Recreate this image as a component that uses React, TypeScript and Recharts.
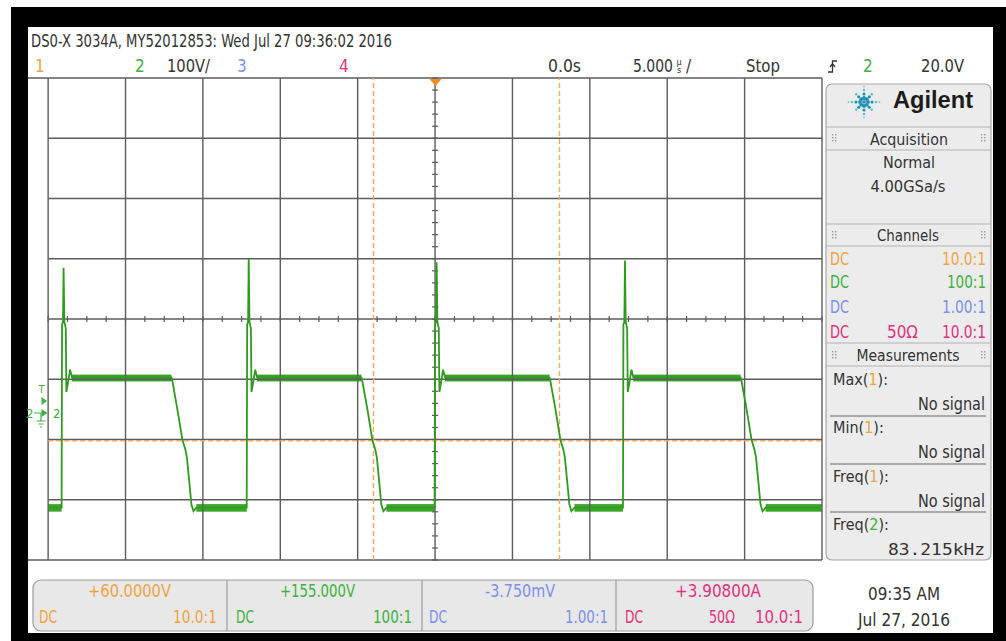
import React from "react";
import { ComposedChart, Line, Area, XAxis, YAxis, ReferenceLine } from "recharts";

// Channel 2 trace: time in µs (5 µs/div, 0 = trigger), volts (100 V/div, offset +155 V)
const CH2_TIME_US = [
  -25.0, -24.13, -24.1, -24.04, -24.0, -23.95, -23.86, -23.82, -23.72, -23.58, -23.46,
  -17.03, -16.97, -16.65, -16.32, -16.13, -16.03, -15.74, -15.61, -15.42,
  -12.17, -12.14, -12.08, -12.04, -11.99, -11.9, -11.86, -11.76, -11.62, -11.5,
  -4.76, -4.7, -4.37, -4.05, -3.86, -3.76, -3.47, -3.34, -3.14,
  -0.03, 0.0, 0.06, 0.1, 0.15, 0.24, 0.28, 0.38, 0.52, 0.64,
  7.39, 7.45, 7.78, 8.1, 8.29, 8.39, 8.68, 8.81, 9.01,
  12.14, 12.17, 12.23, 12.27, 12.32, 12.41, 12.45, 12.55, 12.69, 12.81,
  19.74, 19.8, 20.13, 20.45, 20.64, 20.74, 21.03, 21.16, 21.36, 25.0,
];
const CH2_VOLTS = [
  -158, -158, 146, 150, 240, 150, 140, 34, 48, 71, 58,
  58, 52, 5, -46, -62, -75, -153, -164, -158,
  -158, 146, 150, 255, 150, 140, 34, 48, 71, 58,
  58, 52, 5, -46, -62, -75, -153, -164, -158,
  -158, 146, 150, 249, 150, 140, 34, 48, 71, 58,
  58, 52, 5, -46, -62, -75, -153, -164, -158,
  -158, 146, 150, 252, 150, 140, 34, 48, 71, 58,
  58, 52, 5, -46, -62, -75, -153, -164, -158, -158,
];

// noisy plateaus drawn as thin bands
const HIGH_SPANS_US = [[-23.46, -17.03], [-11.5, -4.76], [0.64, 7.39], [12.81, 19.74]];
const LOW_SPANS_US = [[-25.0, -24.13], [-15.42, -12.17], [-3.14, -0.03], [9.01, 12.14], [21.36, 25.0]];
const HIGH_BAND_V = [52, 62];
const LOW_BAND_V = [-164, -153];

const CURSOR_X_US = [-3.98, 8.04];
const CURSOR_Y_V = -47;

const GRID_X_US = [-25, -20, -15, -10, -5, 0, 5, 10, 15, 20, 25];
const GRID_Y_V = [455, 355, 255, 155, 55, -45, -145];
const FRAME_Y_V = [555, -245];
const X_DOMAIN = [-26.3, 25];
const Y_DOMAIN = [-245, 555];

const ORANGE = "#f2a341";
const GREEN = "#3db23d";
const BLUE = "#7b8ff0";
const MAGENTA = "#e5317e";
const INK = "#333";
const TRACE = "#2e9b1f";
const GRID = "#5c5c5c";

const FONT =
  "'Liberation Sans Narrow','DejaVu Sans Condensed','Roboto Condensed',Roboto,'Liberation Sans',sans-serif";
const MONO = "'DejaVu Sans Mono','Liberation Mono',monospace";

const trace = CH2_TIME_US.map((t, i) => ({ t, v: CH2_VOLTS[i] }));

function Txt({ x, y, len, anchor = "start", fill = INK, size = 17, weight = 400, family = FONT, children }: any) {
  return (
    <text
      x={x}
      y={y}
      textLength={len}
      lengthAdjust={len ? "spacingAndGlyphs" : undefined}
      textAnchor={anchor}
      fontSize={size}
      fontWeight={weight}
      fontFamily={family}
      fill={fill}
    >
      {children}
    </text>
  );
}

// label like "Max(1):" with the channel digit coloured
function MeasLabel({ y, name, ch, color }: any) {
  return (
    <text x={833} y={y} fontSize={16} fontFamily={FONT} fill={INK}>
      {name}(<tspan fill={color}>{ch}</tspan>):
    </text>
  );
}

function Grip({ x, y }: { x: number; y: number }) {
  const dots = [];
  for (let c = 0; c < 2; c++)
    for (let r = 0; r < 3; r++)
      dots.push(<rect key={`${c}-${r}`} x={x + c * 3} y={y + r * 3} width={1.4} height={1.4} fill="#9a9a9a" />);
  return <g>{dots}</g>;
}

function Logo({ cx, cy }: { cx: number; cy: number }) {
  const dots = [];
  for (let k = 0; k < 8; k++) {
    const a = (k * Math.PI) / 4;
    const radii = k % 2 === 0 ? [4, 8, 12, 15.5] : [4, 7.5, 11];
    radii.forEach((r, j) => {
      dots.push(
        <circle
          key={`${k}-${j}`}
          cx={cx + r * Math.cos(a)}
          cy={cy + r * Math.sin(a)}
          r={1.9 - j * 0.35}
          fill={j < 2 ? "#1f8fb3" : "#52c1d6"}
        />
      );
    });
  }
  return (
    <g>
      <circle cx={cx} cy={cy} r={1.8} fill="#1f8fb3" />
      {dots}
    </g>
  );
}

export default function App() {
  const minorX: number[] = [];
  for (let k = 0; k <= 40; k++) minorX.push(-25 + k * 1.25);
  const minorY: number[] = [];
  for (let k = 0; k <= 40; k++) minorY.push(-245 + k * 20);

  return (
    <div style={{ position: "fixed", left: 0, top: 0, width: 1006, height: 641, background: "#fff", overflow: "hidden" }}>
      {/* bezel */}
      <svg width={1006} height={641} style={{ position: "absolute", left: 0, top: 0 }}>
        <rect x={11} y={7} width={995} height={634} fill="#000" />
        <rect x={28} y={27} width={965} height={606} fill="#fff" />
      </svg>

      <div style={{ position: "absolute", left: 23, top: 73 }}>
        <ComposedChart width={804} height={492} margin={{ top: 5, right: 5, bottom: 5, left: 5 }}>
          <XAxis type="number" dataKey="t" domain={X_DOMAIN} hide allowDataOverflow />
          <YAxis type="number" domain={Y_DOMAIN} hide allowDataOverflow />
          {FRAME_Y_V.map((y) => (
            <ReferenceLine key={`f${y}`} y={y} stroke={GRID} strokeWidth={1.4} />
          ))}
          {GRID_X_US.map((x) => (
            <ReferenceLine key={`gx${x}`} x={x} stroke={GRID} strokeWidth={1.4} />
          ))}
          {GRID_Y_V.map((y) => (
            <ReferenceLine
              key={`gy${y}`}
              segment={[{ x: -25, y }, { x: 25, y }]}
              stroke={GRID}
              strokeWidth={1.4}
            />
          ))}
          {minorX.map((x) => (
            <ReferenceLine
              key={`mx${x}`}
              segment={[{ x, y: 150 }, { x, y: 160 }]}
              stroke={GRID}
              strokeWidth={1.2}
            />
          ))}
          {minorY.map((y) => (
            <ReferenceLine
              key={`my${y}`}
              segment={[{ x: -0.2, y }, { x: 0.2, y }]}
              stroke={GRID}
              strokeWidth={1.2}
            />
          ))}
          {CURSOR_X_US.map((x) => (
            <ReferenceLine key={`cx${x}`} x={x} stroke="#f4a75a" strokeWidth={1.4} strokeDasharray="5 3" />
          ))}
          <ReferenceLine
            segment={[{ x: -25, y: CURSOR_Y_V }, { x: 25, y: CURSOR_Y_V }]}
            stroke="#f4a75a"
            strokeWidth={1.4}
            strokeDasharray="5 3"
          />
          {HIGH_SPANS_US.map(([s, e]) => (
            <Area
              key={`h${s}`}
              data={[{ t: s, r: HIGH_BAND_V }, { t: e, r: HIGH_BAND_V }]}
              dataKey="r"
              type="linear"
              stroke="#3a9f25"
              strokeWidth={0.8}
              fill="#3aa82a"
              fillOpacity={1}
              isAnimationActive={false}
            />
          ))}
          {LOW_SPANS_US.map(([s, e]) => (
            <Area
              key={`l${s}`}
              data={[{ t: s, r: LOW_BAND_V }, { t: e, r: LOW_BAND_V }]}
              dataKey="r"
              type="linear"
              stroke="#3a9f25"
              strokeWidth={0.8}
              fill="#3aa82a"
              fillOpacity={1}
              isAnimationActive={false}
            />
          ))}
          <Line
            data={trace}
            dataKey="v"
            type="linear"
            stroke={TRACE}
            strokeWidth={1.8}
            dot={false}
            isAnimationActive={false}
          />
        </ComposedChart>
      </div>

      {/* scope UI overlay */}
      <svg width={1006} height={641} style={{ position: "absolute", left: 0, top: 0, pointerEvents: "none" }}>
        <Txt x={31} y={47} len={361}>DS0-X 3034A, MY52012853: Wed Jul 27 09:36:02 2016</Txt>
        <Txt x={35} y={72} fill={ORANGE}>1</Txt>
        <Txt x={135} y={72} fill={GREEN}>2</Txt>
        <Txt x={167} y={72} len={43}>100V/</Txt>
        <Txt x={237} y={72} fill={BLUE}>3</Txt>
        <Txt x={339} y={72} fill={MAGENTA}>4</Txt>
        <Txt x={548} y={72} len={33}>0.0s</Txt>
        <Txt x={633} y={72} len={40}>5.000</Txt>
        <Txt x={679} y={65} size={9} anchor="middle">µ</Txt>
        <Txt x={679} y={73} size={9} anchor="middle">s</Txt>
        <Txt x={686} y={72}>/</Txt>
        <Txt x={746} y={72} len={34}>Stop</Txt>
        <path d="M828,72 H832.5 V61 H837 M830,67 L832.5,63.5 L835,67" stroke={INK} strokeWidth={1.3} fill="none" />
        <Txt x={863} y={72} fill={GREEN}>2</Txt>
        <Txt x={921} y={72} len={43}>20.0V</Txt>

        {/* trigger position marker */}
        <path d="M429.5,79 L441.5,79 L435.5,86 Z" fill="#f08c1e" />

        {/* channel 2 ground and trigger level markers */}
        <Txt x={38.5} y={393} size={11} fill={GREEN}>T</Txt>
        <path d="M41.5,397 L47,401 L41.5,405 Z" fill={GREEN} />
        <Txt x={26} y={418} size={13} fill={GREEN}>2</Txt>
        <path d="M34,413 H41 V421 M36.5,421 H45.5 M38.5,424 H43.5 M40,427 H42" stroke={GREEN} strokeWidth={1.2} fill="none" />
        <path d="M41.5,409 L47.5,413 L41.5,417 Z" fill={GREEN} />
        <Txt x={53} y={418} size={13} fill={GREEN}>2</Txt>

        {/* right side panel */}
        <rect x={826} y={84} width={165} height={476} rx={6} fill="#ececec" stroke="#a8a8a8" strokeWidth={1.2} />
        {[127, 150, 224, 246, 343, 366].map((y) => (
          <line key={y} x1={826} x2={991} y1={y} y2={y} stroke="#b2b2b2" strokeWidth={1.2} />
        ))}
        <Logo cx={864} cy={102} />
        <Txt x={893} y={108} len={80} size={23} weight={700} family="'Liberation Sans',Arial,sans-serif" fill="#1c1c1c">
          Agilent
        </Txt>
        <Grip x={832} y={134} />
        <Grip x={981} y={134} />
        <Txt x={909} y={145} len={78} anchor="middle" size={16}>Acquisition</Txt>
        <Txt x={909} y={168} len={52} anchor="middle" size={16}>Normal</Txt>
        <Txt x={908} y={192} len={75} anchor="middle" size={16}>4.00GSa/s</Txt>
        <Grip x={832} y={231} />
        <Grip x={981} y={231} />
        <Txt x={908} y={241} len={62} anchor="middle" size={16}>Channels</Txt>
        <Txt x={830} y={265} len={19} fill={ORANGE}>DC</Txt>
        <Txt x={986} y={265} len={44} anchor="end" fill={ORANGE}>10.0:1</Txt>
        <Txt x={830} y={288} len={19} fill={GREEN}>DC</Txt>
        <Txt x={986} y={288} len={39} anchor="end" fill={GREEN}>100:1</Txt>
        <Txt x={830} y={313} len={19} fill={BLUE}>DC</Txt>
        <Txt x={986} y={313} len={44} anchor="end" fill={BLUE}>1.00:1</Txt>
        <Txt x={830} y={338} len={19} fill={MAGENTA}>DC</Txt>
        <Txt x={887} y={338} len={31} fill={MAGENTA}>50Ω</Txt>
        <Txt x={986} y={338} len={44} anchor="end" fill={MAGENTA}>10.0:1</Txt>
        <Grip x={832} y={351} />
        <Grip x={981} y={351} />
        <Txt x={908} y={361} len={103} anchor="middle" size={16}>Measurements</Txt>
        <MeasLabel y={385} name="Max" ch="1" color={ORANGE} />
        <Txt x={985} y={410} len={67} anchor="end">No signal</Txt>
        <line x1={830} x2={986} y1={416} y2={416} stroke="#666" strokeWidth={1.2} />
        <MeasLabel y={433} name="Min" ch="1" color={ORANGE} />
        <Txt x={985} y={458} len={67} anchor="end">No signal</Txt>
        <line x1={830} x2={986} y1={464} y2={464} stroke="#666" strokeWidth={1.2} />
        <MeasLabel y={482} name="Freq" ch="1" color={ORANGE} />
        <Txt x={985} y={507} len={67} anchor="end">No signal</Txt>
        <line x1={830} x2={986} y1={512} y2={512} stroke="#666" strokeWidth={1.2} />
        <MeasLabel y={530} name="Freq" ch="2" color={GREEN} />
        <Txt x={985} y={555} len={97} anchor="end" family={MONO} size={16}>83.215kHz</Txt>

        {/* channel boxes */}
        <rect x={33} y={580} width={780} height={51} rx={8} fill="#e8e8e8" stroke="#9c9c9c" strokeWidth={1.2} />
        {[227, 422, 616].map((x) => (
          <line key={x} x1={x} x2={x} y1={580} y2={631} stroke="#9c9c9c" strokeWidth={1.2} />
        ))}
        <Txt x={129.5} y={597} len={83} anchor="middle" fill={ORANGE}>+60.0000V</Txt>
        <Txt x={39} y={623} len={18} fill={ORANGE}>DC</Txt>
        <Txt x={217} y={623} len={44} anchor="end" fill={ORANGE}>10.0:1</Txt>
        <Txt x={317.5} y={597} len={75} anchor="middle" fill={GREEN}>+155.000V</Txt>
        <Txt x={236} y={623} len={18} fill={GREEN}>DC</Txt>
        <Txt x={412} y={623} len={39} anchor="end" fill={GREEN}>100:1</Txt>
        <Txt x={520} y={597} len={70} anchor="middle" fill={BLUE}>-3.750mV</Txt>
        <Txt x={429} y={623} len={18} fill={BLUE}>DC</Txt>
        <Txt x={608} y={623} len={43} anchor="end" fill={BLUE}>1.00:1</Txt>
        <Txt x={718} y={597} len={86} anchor="middle" fill={MAGENTA}>+3.90800A</Txt>
        <Txt x={625} y={623} len={18} fill={MAGENTA}>DC</Txt>
        <Txt x={709} y={623} len={26} fill={MAGENTA}>50Ω</Txt>
        <Txt x={803} y={623} len={48} anchor="end" fill={MAGENTA}>10.0:1</Txt>

        <Txt x={904} y={600} len={72} anchor="middle" size={18} fill="#333">09:35 AM</Txt>
        <Txt x={904} y={626} len={92} anchor="middle" size={18} fill="#333">Jul 27, 2016</Txt>
      </svg>
    </div>
  );
}
